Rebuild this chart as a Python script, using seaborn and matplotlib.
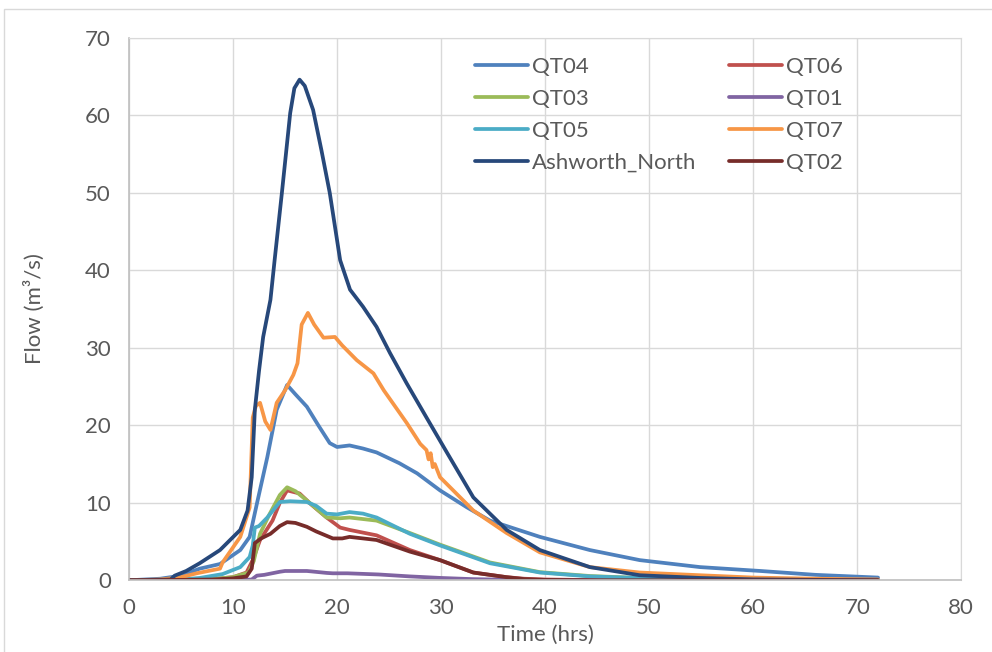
import numpy as np
import pandas as pd
import matplotlib
matplotlib.use("Agg")
import matplotlib.pyplot as plt
import seaborn as sns
from matplotlib.patches import Rectangle

# hydrograph values (time in hrs, flow in m3/s)
t_qt04 = [0, 3, 5, 6.8, 8.75, 10.7, 11.6, 12.3, 13.3, 14.2, 15.2, 16, 17.1, 18.2, 19.3, 20, 21.2, 22.5, 23.8, 26,
          27.7, 29.9, 32.5, 34.7, 39.5, 44.3, 49.1, 54.9, 60.7, 66, 72]
v_qt04 = [0, 0.2, 0.6, 1.5, 2.1, 3.9, 5.6, 9.9, 15.9, 22, 25.2, 24, 22.4, 20, 17.7, 17.2, 17.4, 17.0, 16.5, 15.1,
          13.8, 11.6, 9.4, 7.7, 5.6, 3.9, 2.6, 1.7, 1.2, 0.7, 0.35]

t_qt06 = [0, 5, 8, 10, 11.3, 11.9, 12.6, 13.8, 14.5, 15.2, 16.4, 17.5, 19, 20.3, 21.2, 23.8, 27, 29.9, 33.1, 36.3,
          38, 40, 45, 50, 72]
v_qt06 = [0, 0.05, 0.15, 0.4, 1.0, 2.6, 5.2, 7.7, 10, 11.6, 11.2, 9.8, 8.1, 6.8, 6.5, 5.8, 3.9, 2.6, 1.0, 0.4,
          0.2, 0.1, 0.02, 0, 0]

t_qt03 = [0, 5, 8, 10, 11.5, 12, 12.6, 13.5, 14.5, 15.2, 16, 17.1, 19, 20.3, 21.2, 23.8, 27, 29.9, 34.7, 39.5,
          44.3, 50, 55, 60, 72]
v_qt03 = [0, 0.05, 0.15, 0.4, 1.0, 2.5, 6, 8.5, 11.0, 12.0, 11.5, 10.3, 8.1, 8.0, 8.1, 7.7, 6.1, 4.6, 2.3, 1.05,
          0.55, 0.25, 0.1, 0.05, 0]

t_qt01 = [0, 10, 11.8, 12.3, 13, 14.5, 15, 17.1, 17.5, 19, 19.6, 21, 24, 27, 30, 33, 35, 40, 72]
v_qt01 = [0, 0, 0.1, 0.6, 0.7, 1.1, 1.2, 1.2, 1.15, 0.95, 0.9, 0.9, 0.75, 0.5, 0.3, 0.15, 0.1, 0, 0]

t_qt05 = [0, 5, 6.8, 9, 10.7, 11.6, 11.9, 12.1, 12.5, 13.3, 14.5, 15.5, 17.1, 18, 19, 20, 21.2, 22.5, 23.8, 27,
          29.9, 34.7, 39.5, 44.3, 50, 55, 60, 72]
v_qt05 = [0, 0.1, 0.3, 0.8, 1.7, 3.0, 4.5, 6.8, 7.0, 8.1, 10.1, 10.2, 10.1, 9.6, 8.6, 8.5, 8.8, 8.6, 8.1, 6.0,
          4.5, 2.2, 1.0, 0.5, 0.25, 0.12, 0.06, 0.02]

t_qt07 = [0, 3, 5, 6.5, 8.75, 9.0, 10.7, 11.6, 11.9, 12.2, 12.6, 13.1, 13.6, 14.2, 15.0, 15.8, 16.2, 16.6, 17.2,
          17.8, 18.7, 19.8, 20.5, 21.9, 23.5, 24.5, 26.7, 28.0, 28.6, 28.8, 29.0, 29.2, 29.4, 29.9, 33.1, 36.3,
          39.5, 44.3, 49.1, 54.9, 60, 66, 72]
v_qt07 = [0, 0.1, 0.4, 0.9, 1.5, 2.3, 5.6, 9.4, 21, 22.5, 22.9, 20.5, 19.4, 22.9, 24.5, 26.5, 28, 33, 34.5,
          33, 31.3, 31.4, 30.3, 28.4, 26.7, 24.5, 20.3, 17.6, 16.8, 15.6, 16.4, 14.6, 15.0, 13.3, 9.0, 6.1,
          3.6, 1.7, 1.0, 0.65, 0.35, 0.2, 0.1]

t_ash = [0, 3, 4.0, 4.4, 5.5, 6.8, 8.75, 10.7, 11.4, 11.8, 12.1, 12.5, 12.9, 13.6, 14, 14.7, 15.5, 15.9, 16.4,
         16.9, 17.7, 18.5, 19.3, 20.3, 21.25, 22.5, 23.8, 25.1, 26.7, 28.6, 30.6, 33.1, 36.3, 39.5, 44.3, 49.1,
         54.9, 60, 66, 72]
v_ash = [0, 0.05, 0.1, 0.6, 1.2, 2.2, 3.9, 6.5, 9, 13.3, 22, 27, 31.4, 36.2, 41.3, 50, 60.3, 63.5, 64.6,
         63.8, 60.7, 55.5, 50, 41.3, 37.5, 35.3, 32.7, 29.3, 25.4, 21, 16.4, 10.7, 6.5, 3.9, 1.7, 0.65,
         0.3, 0.12, 0.05, 0]

t_qt02 = [0, 5, 8, 10, 11.3, 11.8, 12.1, 12.7, 13.6, 14.5, 15.2, 16, 17.1, 18, 19.6, 20.5, 21.2, 23.8, 27, 29.9,
          33.1, 36.3, 38, 40, 45, 72]
v_qt02 = [0, 0.05, 0.1, 0.25, 0.5, 1.5, 4.8, 5.4, 6.0, 7.0, 7.5, 7.4, 6.9, 6.3, 5.4, 5.4, 5.6, 5.2, 3.7, 2.6,
          1.0, 0.4, 0.15, 0.05, 0, 0]

series_order = ["QT04", "QT06", "QT03", "QT01", "QT05", "QT07", "Ashworth_North", "QT02"]
series_data = {
    "QT04": (t_qt04, v_qt04),
    "QT06": (t_qt06, v_qt06),
    "QT03": (t_qt03, v_qt03),
    "QT01": (t_qt01, v_qt01),
    "QT05": (t_qt05, v_qt05),
    "QT07": (t_qt07, v_qt07),
    "Ashworth_North": (t_ash, v_ash),
    "QT02": (t_qt02, v_qt02),
}
colours = {
    "QT04": "#4F81BD", "QT06": "#C0504D", "QT03": "#9BBB59", "QT01": "#8064A2",
    "QT05": "#4BACC6", "QT07": "#F79646", "Ashworth_North": "#27487A", "QT02": "#772C2A",
}

df = pd.concat([pd.DataFrame({"Time": t, "Flow": v, "series": name})
                for name, (t, v) in series_data.items()], ignore_index=True)

sns.set_style("white")
plt.rcParams['font.family'] = ['Lato', 'DejaVu Sans']
fs = 16

fig = plt.figure(figsize=(9.92, 6.52), dpi=100)
ax = fig.add_axes([0.130, 0.110, 0.839, 0.832])

sns.lineplot(data=df, x="Time", y="Flow", hue="series", hue_order=series_order,
             palette=colours, estimator=None, sort=False, linewidth=2.7, ax=ax)

ax.set_xlim(0, 80)
ax.set_ylim(0, 70)
ax.set_xticks(range(0, 81, 10))
ax.set_yticks(range(0, 71, 10))
ax.grid(True, color="#D9D9D9", linewidth=1)
ax.set_axisbelow(True)
for s in ["top", "right"]:
    ax.spines[s].set_color("#D9D9D9")
for s in ["left", "bottom"]:
    ax.spines[s].set_color("#BFBFBF")
    ax.spines[s].set_linewidth(1.2)
ax.tick_params(length=0, pad=13, labelsize=fs, labelcolor="#595959")
ax.set_xlabel("Time (hrs)", fontsize=fs, color="#595959", labelpad=5)
ax.set_ylabel("Flow (m³/s)", fontsize=fs, color="#595959", labelpad=29)

# legend laid out like Excel: row-major across two columns
handles, labels = ax.get_legend_handles_labels()
lookup = dict(zip(labels, handles))
leg_order = ["QT04", "QT03", "QT05", "Ashworth_North", "QT06", "QT01", "QT07", "QT02"]
leg = ax.legend([lookup[k] for k in leg_order], leg_order, ncol=2, frameon=False,
                loc="upper left", bbox_to_anchor=(475 / 992, 1 - 56.5 / 652),
                bbox_transform=fig.transFigure, borderaxespad=0, borderpad=0,
                fontsize=fs, handlelength=2.4, handletextpad=0.18,
                columnspacing=1.45, labelspacing=0.54)
for txt in leg.get_texts():
    txt.set_color("#595959")

# chart area border
fig.add_artist(Rectangle((4 / 992, -0.05), 1.1, 1.05 - 9 / 652, transform=fig.transFigure,
                         fill=False, edgecolor="#D9D9D9", linewidth=1, clip_on=False))

fig.savefig("out.png", dpi=100)
